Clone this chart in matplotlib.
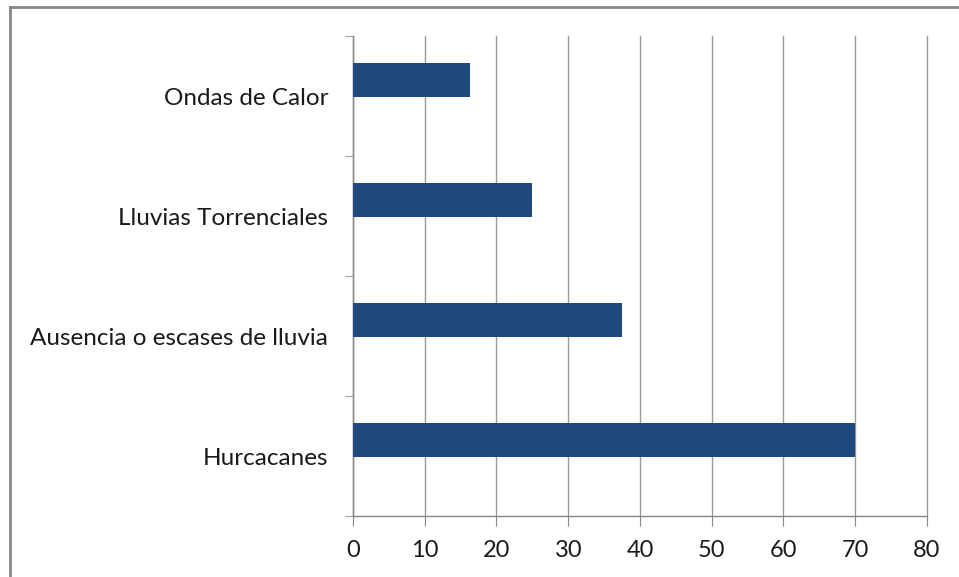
import numpy as np
import matplotlib.pyplot as plt
from matplotlib.lines import Line2D

categories = ["Hurcacanes", "Ausencia o escases de lluvia", "Lluvias Torrenciales", "Ondas de Calor"]
values = [70, 37.5, 25, 16.3]
x_ticks = [0, 10, 20, 30, 40, 50, 60, 70, 80]

plt.rcParams['font.family'] = ['Lato', 'DejaVu Sans']

fig = plt.figure(figsize=(9.59, 5.77), dpi=100)
ax = fig.add_axes([0.3681, 0.1057, 0.5985, 0.8319])

pos = np.arange(len(categories)) + 0.5
ax.barh(pos + 0.133, values, height=0.283, color='#1F497D', zorder=3)

ax.set_xlim(0, 80)
ax.set_ylim(0, 4)
ax.set_xticks(x_ticks)
ax.set_xticklabels([str(t) for t in x_ticks], fontsize=17, color='#1a1a1a')
ax.set_yticks(pos)
ax.set_yticklabels(categories, fontsize=17.5, color='#1a1a1a')
ax.set_yticks(np.arange(0, 5), minor=True)

ax.tick_params(axis='y', which='major', length=0, pad=18)
ax.tick_params(axis='y', which='minor', length=6, color='#888888', direction='out')
ax.tick_params(axis='x', length=7, color='#888888', pad=10)

ax.grid(axis='x', color='#999999', linewidth=1, zorder=0)
for gl in ax.get_xgridlines():
    gl.set_clip_on(False)
for side in ['top', 'right']:
    ax.spines[side].set_visible(False)
for side in ['left', 'bottom']:
    ax.spines[side].set_color('#888888')
    ax.spines[side].set_linewidth(1)

# outer chart border (top and left visible)
fig.add_artist(Line2D([9.5 / 959, 9.5 / 959], [0, 1 - 6.5 / 577], transform=fig.transFigure,
                      color='#888888', linewidth=2))
fig.add_artist(Line2D([9.5 / 959, 1], [1 - 6.5 / 577, 1 - 6.5 / 577], transform=fig.transFigure,
                      color='#888888', linewidth=2))

fig.savefig('out.png', dpi=100)
